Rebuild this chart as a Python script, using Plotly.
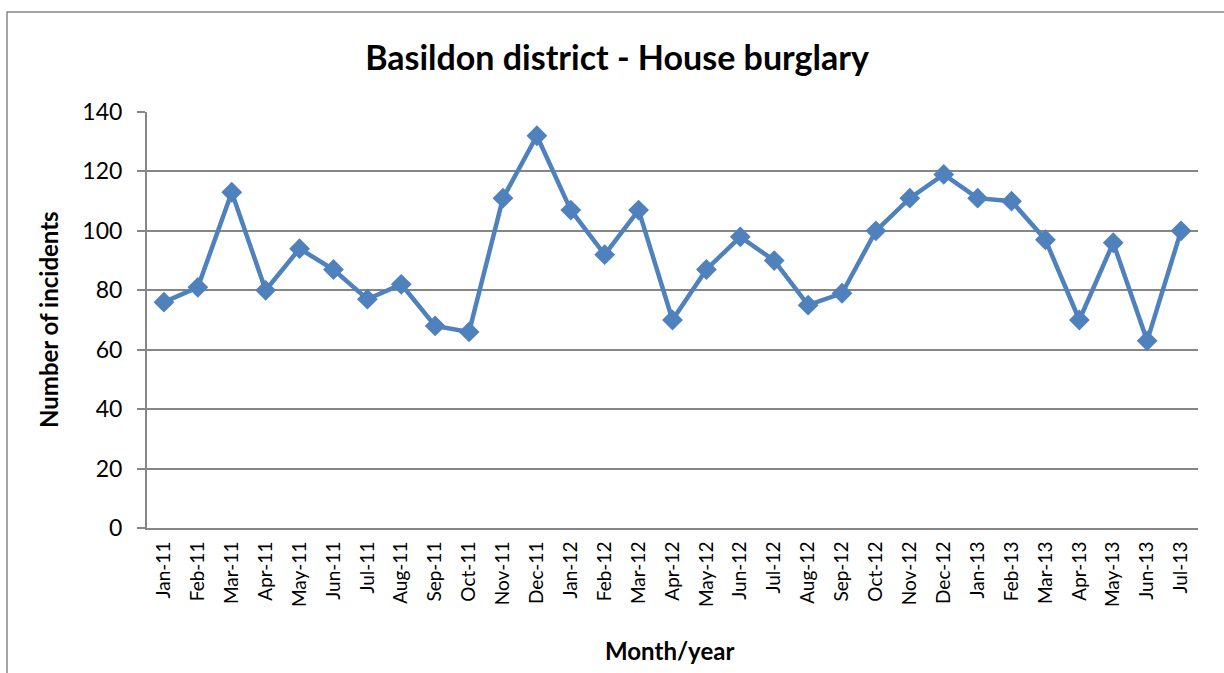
import plotly.graph_objects as go

months = ["Jan-11","Feb-11","Mar-11","Apr-11","May-11","Jun-11","Jul-11","Aug-11","Sep-11","Oct-11",
          "Nov-11","Dec-11","Jan-12","Feb-12","Mar-12","Apr-12","May-12","Jun-12","Jul-12","Aug-12",
          "Sep-12","Oct-12","Nov-12","Dec-12","Jan-13","Feb-13","Mar-13","Apr-13","May-13","Jun-13","Jul-13"]
incidents = [76, 81, 113, 80, 94, 87, 77, 82, 68, 66,
             111, 132, 107, 92, 107, 70, 87, 98, 90, 75,
             79, 100, 111, 119, 111, 110, 97, 70, 96, 63, 100]
y_ticks = [0, 20, 40, 60, 80, 100, 120, 140]

W, H = 1224, 673
L, R, T, B = 147, 1198, 112, 528

FONT = "Lato, Calibri, 'Open Sans', sans-serif"

fig = go.Figure()
fig.add_trace(go.Scatter(
    x=months, y=incidents, mode="lines+markers",
    line=dict(color="#4F81BD", width=4.5),
    marker=dict(symbol="diamond", size=16, color="#4F81BD"),
    showlegend=False,
))

def px_x(p):
    return (p - L) / (R - L)

def px_y(p):
    return (B - p) / (B - T)

fig.update_layout(
    width=W, height=H,
    margin=dict(l=L, r=W - R, t=T, b=H - B),
    paper_bgcolor="white", plot_bgcolor="white",
    font=dict(family=FONT, color="black"),
    title=dict(text="<b>Basildon district - House burglary</b>", x=px_x(617), xref="paper",
               xanchor="center", y=1 - 58 / H, yanchor="middle",
               font=dict(size=34, family=FONT)),
    xaxis=dict(
        type="category", range=[-0.5, len(months) - 0.5],
        tickangle=-90, tickfont=dict(size=19, family=FONT),
        showline=True, linecolor="#868686", linewidth=2,
        showgrid=False, ticks="", ticklen=0, ticklabelstandoff=4,
        automargin=False,
    ),
    yaxis=dict(
        range=[0, 140], tickvals=y_ticks, ticktext=[str(v) for v in y_ticks],
        tickfont=dict(size=23, family=FONT),
        showline=True, linecolor="#868686", linewidth=2,
        showgrid=True, gridcolor="#868686", gridwidth=1.5,
        ticks="outside", ticklen=8, tickcolor="#868686", tickwidth=1.5,
        ticklabelstandoff=10,
        zeroline=False,
        automargin=False,
    ),
)

fig.add_annotation(text="<b>Month/year</b>", xref="paper", yref="paper",
                   x=px_x(669), y=px_y(650), showarrow=False,
                   font=dict(size=24, family=FONT), xanchor="center", yanchor="middle")
fig.add_annotation(text="<b>Number of incidents</b>", xref="paper", yref="paper",
                   x=px_x(48), y=px_y(320), showarrow=False, textangle=-90,
                   font=dict(size=24, family=FONT), xanchor="center", yanchor="middle")

# Outer chart border
fig.add_shape(type="rect", xref="paper", yref="paper",
              x0=px_x(7), y0=px_y(690), x1=px_x(1240), y1=px_y(12),
              line=dict(color="#868686", width=1.5), layer="below")

fig.write_html("out.html", config={"displayModeBar": False},
               post_script="document.body.style.margin='0';document.body.style.overflow='hidden';")
